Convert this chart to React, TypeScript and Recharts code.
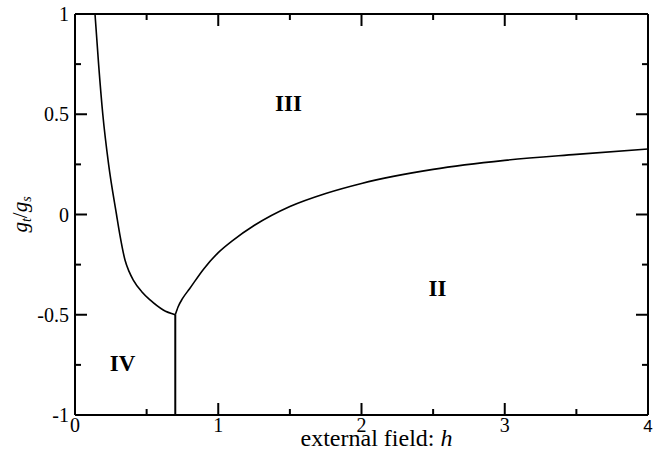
import React from 'react';
import { ComposedChart, Line, Scatter, XAxis, YAxis, CartesianGrid } from 'recharts';

const leftBoundaryH = [0.1396, 0.1647, 0.194, 0.2346, 0.2897, 0.313, 0.349, 0.378, 0.407, 0.466, 0.524, 0.616, 0.7];
const leftBoundaryG = [1, 0.75, 0.5, 0.25, 0, -0.1, -0.227, -0.285, -0.327, -0.385, -0.426, -0.476, -0.5];
const rightBoundaryH = [0.7, 0.72, 0.75, 0.8, 0.9, 1.0, 1.1, 1.25, 1.5, 1.75, 2, 2.5, 3, 3.5, 4];
const rightBoundaryG = [-0.5, -0.46, -0.42, -0.37, -0.27, -0.19, -0.13, -0.055, 0.04, 0.105, 0.155, 0.225, 0.27, 0.3, 0.327];
const verticalH = [0.7, 0.7];
const verticalG = [-0.5, -1];
const regionNames = ['III', 'II', 'IV'];
const regionH = [1.49, 2.53, 0.332];
const regionG = [0.554, -0.364, -0.74];
const xTicks = [0, 0.5, 1, 1.5, 2, 2.5, 3, 3.5, 4];
const yTicks = [-1, -0.75, -0.5, -0.25, 0, 0.25, 0.5, 0.75, 1];
const xTickLabels = ['0', '1', '2', '3', '4'];
const yTickLabels = ['-1', '-0.5', '0', '0.5', '1'];
const xMax = 4;
const yMax = 1;

const zip = (hs: number[], gs: number[]) => hs.map((h, i) => ({ h, g: gs[i] }));
const leftData = zip(leftBoundaryH, leftBoundaryG);
const rightData = zip(rightBoundaryH, rightBoundaryG);
const verticalData = zip(verticalH, verticalG);
const regionData = regionNames.map((name, i) => ({ name, h: regionH[i], g: regionG[i] }));

const SERIF = '"Liberation Serif", "Times New Roman", serif';
const INK = '#000';
const MAJOR = 12;
const MINOR = 6;
const WIDTH = 670;
const HEIGHT = 457;
const MARGIN = { top: 14, right: 22, bottom: 0, left: 0 };
const PLOT_TOP = MARGIN.top;
const PLOT_RIGHT = WIDTH - MARGIN.right;

const isMajorX = (v: number) => Number.isInteger(v);
const isMajorY = (v: number) => Math.abs(v * 2 - Math.round(v * 2)) < 1e-9;

const BottomTick = (props: any) => {
  const { x, y, payload } = props;
  const v = payload.value as number;
  const major = isMajorX(v);
  const len = major ? MAJOR : MINOR;
  const label = xTickLabels[Math.round(v)];
  const isFour = major && v === 4;
  return (
    <g>
      <path d={`M${x},${y}L${x},${y - len}`} stroke={INK} strokeWidth={2} />
      <path d={`M${x},${PLOT_TOP}L${x},${PLOT_TOP + len}`} stroke={INK} strokeWidth={2} />
      {major && (
        <text
          x={x}
          y={y + 17}
          textAnchor="middle"
          fontFamily={isFour ? '"Liberation Sans", Arial, sans-serif' : SERIF}
          fontSize={isFour ? 17 : 20}
          fill="#000"
        >
          {label}
        </text>
      )}
    </g>
  );
};

const LeftTick = (props: any) => {
  const { x, y, payload } = props;
  const v = payload.value as number;
  const major = isMajorY(v);
  const len = major ? MAJOR : MINOR;
  const idx = Math.round((v + 1) * 2);
  return (
    <g>
      <path d={`M${x},${y}L${x + len},${y}`} stroke={INK} strokeWidth={2} />
      <path d={`M${PLOT_RIGHT},${y}L${PLOT_RIGHT - len},${y}`} stroke={INK} strokeWidth={2} />
      {major && (
        <text x={x - 6} y={y} dy="0.35em" textAnchor="end" fontFamily={SERIF} fontSize={20} fill="#000">
          {yTickLabels[idx]}
        </text>
      )}
    </g>
  );
};

const XLabel = (props: any) => {
  const vb = props.viewBox || { x: 75, y: 415, width: 573, height: 42 };
  const cx = vb.x + vb.width / 2 + 15;
  return (
    <text x={cx} y={vb.y + 31} textAnchor="middle" fontFamily={SERIF} fontSize={24} fill="#000">
      external field: <tspan fontStyle="italic">h</tspan>
    </text>
  );
};

const YLabel = (props: any) => {
  const vb = props.viewBox || { x: 0, y: 14, width: 75, height: 401 };
  const cx = vb.x + 27;
  const cy = vb.y + vb.height / 2;
  return (
    <text
      x={cx}
      y={cy}
      transform={`rotate(-90, ${cx}, ${cy})`}
      textAnchor="middle"
      fontFamily={SERIF}
      fontSize={21}
      fill="#000"
    >
      <tspan fontStyle="italic">g</tspan>
      <tspan fontSize={14} fontStyle="italic" dy={4}>t</tspan>
      <tspan dy={-4}>/</tspan>
      <tspan fontStyle="italic">g</tspan>
      <tspan fontSize={14} fontStyle="italic" dy={4}>s</tspan>
    </text>
  );
};

const RegionLabel = (props: any) => {
  const { cx, cy, payload } = props;
  return (
    <text x={cx} y={cy} dy="0.35em" textAnchor="middle" fontFamily={SERIF} fontWeight="bold" fontSize={23} fill="#000">
      {payload.name}
    </text>
  );
};

export default function App() {
  return (
    <div style={{ position: 'absolute', left: 0, top: 0, width: WIDTH, height: HEIGHT, background: '#fff' }}>
      <ComposedChart width={WIDTH} height={HEIGHT} margin={MARGIN}>
        <CartesianGrid
          horizontalValues={[yMax]}
          verticalValues={[xMax]}
          stroke={INK}
          strokeWidth={2}
          strokeDasharray=""
        />
        <XAxis
          dataKey="h"
          type="number"
          domain={[0, 4]}
          ticks={xTicks}
          interval={0}
          allowDataOverflow
          height={42}
          tickSize={0}
          tickMargin={0}
          tick={BottomTick}
          axisLine={{ stroke: INK, strokeWidth: 2 }}
          label={{ content: XLabel }}
        />
        <YAxis
          type="number"
          domain={[-1, 1]}
          ticks={yTicks}
          interval={0}
          allowDataOverflow
          width={75}
          tickSize={0}
          tickMargin={0}
          tick={LeftTick}
          axisLine={{ stroke: INK, strokeWidth: 2 }}
          label={{ content: YLabel }}
        />
        <Line data={leftData} dataKey="g" type="monotone" stroke="#000" strokeWidth={1.6} dot={false} activeDot={false} isAnimationActive={false} />
        <Line data={rightData} dataKey="g" type="monotone" stroke="#000" strokeWidth={1.6} dot={false} activeDot={false} isAnimationActive={false} />
        <Line data={verticalData} dataKey="g" type="linear" stroke="#000" strokeWidth={2} dot={false} activeDot={false} isAnimationActive={false} />
        <Scatter data={regionData} dataKey="g" shape={RegionLabel} isAnimationActive={false} />
      </ComposedChart>
    </div>
  );
}
